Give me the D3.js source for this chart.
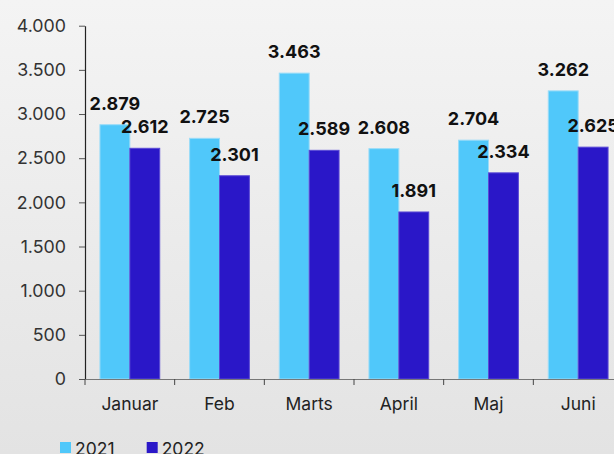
<!DOCTYPE html>
<html><head><meta charset="utf-8">
<script src="https://cdn.jsdelivr.net/npm/d3@7"></script>
<style>html,body{margin:0;padding:0;overflow:hidden;}svg{display:block;}</style>
</head><body>
<svg id="c" width="614" height="454"></svg>
<script>
const categories = ["Januar","Feb","Marts","April","Maj","Juni"];
const series = ["2021","2022"];
const values2021 = [2879,2725,3463,2608,2704,3262];
const values2022 = [2612,2301,2589,1891,2334,2625];
const yTicks = [0,500,1000,1500,2000,2500,3000,3500,4000];
const colors = {"2021":"#50c8fa","2022":"#2a17c8"};
const strokes = {"2021":"#9adcf8","2022":"#5a4ad6"};

const svg = d3.select("#c");
const defs = svg.append("defs");
const g0 = defs.append("linearGradient").attr("id","bg").attr("x1",0).attr("y1",0).attr("x2",0).attr("y2",1);
g0.append("stop").attr("offset","0%").attr("stop-color","#f4f4f4");
g0.append("stop").attr("offset","100%").attr("stop-color","#e3e3e3");
svg.append("rect").attr("width",614).attr("height",454).attr("fill","url(#bg)");

const fmt = d => d3.format(",")(d).replace(/,/g,".");
const font = "Inter, 'Liberation Sans', Arial, sans-serif";

const x0 = d3.scaleBand().domain(categories).range([85,623]).padding(0);
const x1 = d3.scaleBand().domain(series).range([0,x0.bandwidth()]).paddingInner(0).paddingOuter(0.5);
const y = d3.scaleLinear().domain([0,4000]).range([379,25.7]);

// y axis
const ya = svg.append("g").attr("transform","translate(85,0)")
  .call(d3.axisLeft(y).tickValues(yTicks).tickFormat(fmt).tickSize(6).tickSizeOuter(0).tickPadding(13));
ya.select(".domain").attr("stroke","#222").attr("stroke-width",1.2);
ya.selectAll(".tick line").attr("stroke","#555");
ya.selectAll(".tick text").attr("font-family",font).attr("font-size",17.8).attr("fill","#333");

const rows = categories.map((c,i)=>({cat:c, vals:[{s:"2021",v:values2021[i]},{s:"2022",v:values2022[i]}]}));
const grp = svg.selectAll("g.cat").data(rows).join("g").attr("class","cat")
  .attr("transform",d=>`translate(${x0(d.cat)},0)`);
grp.selectAll("rect").data(d=>d.vals).join("rect")
  .attr("x",d=>x1(d.s)).attr("width",x1.bandwidth())
  .attr("y",d=>y(d.v)).attr("height",d=>y(0)-y(d.v))
  .attr("fill",d=>colors[d.s]).attr("stroke",d=>strokes[d.s]).attr("stroke-width",1);
grp.selectAll("text").data(d=>d.vals).join("text")
  .attr("x",d=>x1(d.s)+x1.bandwidth()/2).attr("y",d=>y(d.v)-15)
  .attr("text-anchor","middle").attr("font-family",font).attr("font-weight","bold")
  .attr("font-size",18).attr("fill","#111").text(d=>fmt(d.v));

// x axis
const xa = svg.append("g").attr("transform","translate(0,379)")
  .call(d3.axisBottom(x0).tickSize(0).tickPadding(19));
xa.select(".domain").attr("stroke","#777").attr("stroke-width",1.2);
xa.selectAll(".tick text").attr("font-family",font).attr("font-size",17.5).attr("fill","#222");
const edges = categories.map(c=>x0(c));
svg.append("g").selectAll("line").data(edges).join("line")
  .attr("x1",d=>d).attr("x2",d=>d).attr("y1",379).attr("y2",385).attr("stroke","#444");

// legend
const leg = svg.append("g");
const legX = [60,146.7];
series.forEach((s,i)=>{
  leg.append("rect").attr("x",legX[i]).attr("y",442).attr("width",11).attr("height",11).attr("fill",colors[s]);
  leg.append("text").attr("x",legX[i]+15).attr("y",455).attr("font-family",font).attr("font-size",17.5).attr("fill","#222").text(s);
});
</script>
</body></html>
